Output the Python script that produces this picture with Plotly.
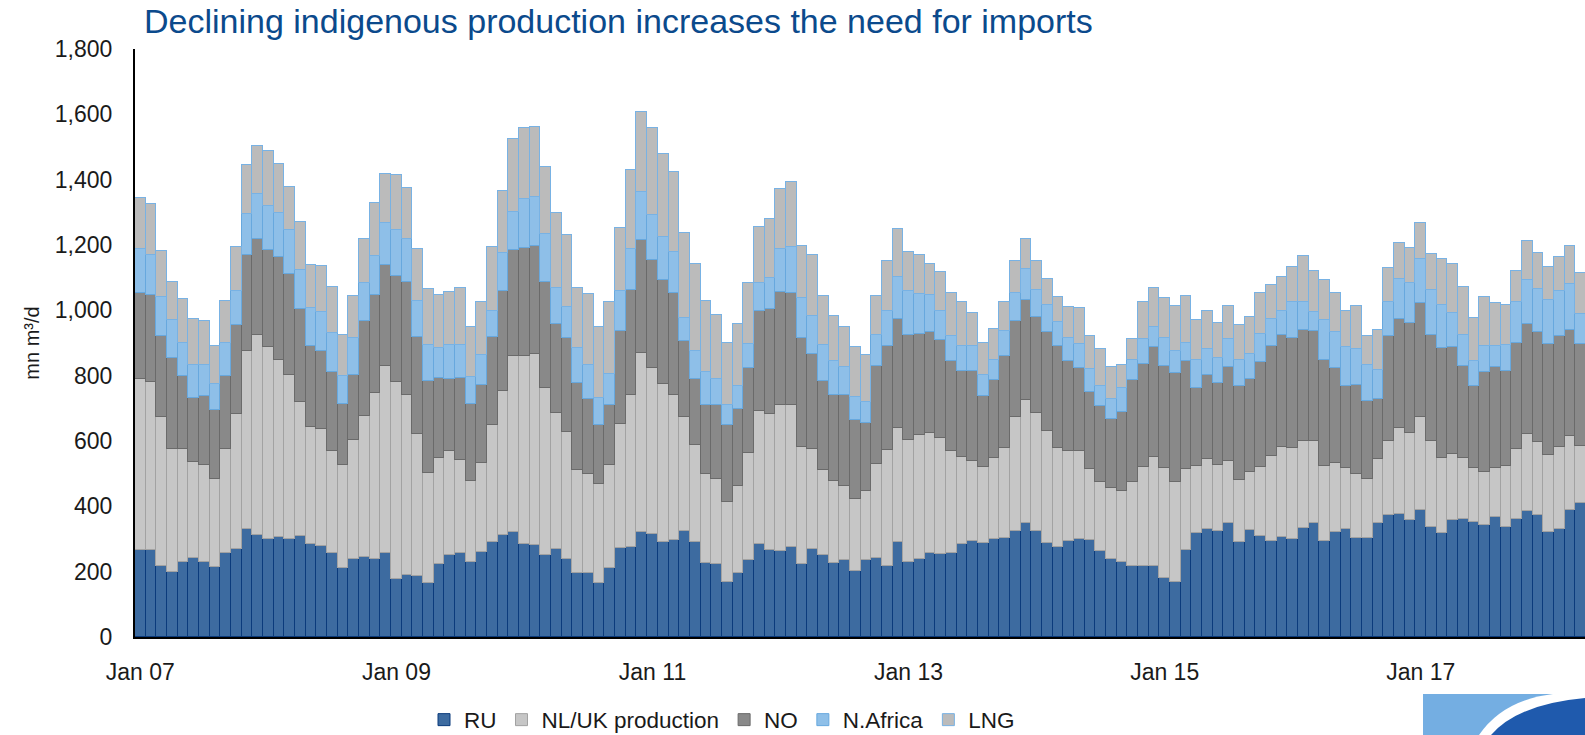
import numpy as np
import pandas as pd
import plotly.graph_objects as go

# ---------------- data (mn m3/d, monthly from Jan 2007) ----------------
RU = [267,267,218,200,231,242,229,215,257,269,331,313,
      299,307,301,308,286,278,258,212,238,244,240,258,
      179,190,188,165,224,251,258,231,260,292,311,320,
      286,283,252,268,238,195,195,166,212,271,276,320,
      316,290,297,325,292,228,224,169,197,235,286,265,
      262,276,222,270,250,226,236,202,236,241,217,291,
      229,239,258,255,258,285,293,289,299,304,323,348,
      326,288,276,294,301,297,263,240,231,217,216,217,
      181,168,266,318,331,326,348,292,327,308,294,305,
      301,333,348,293,321,332,304,304,348,375,377,358,
      388,338,317,357,360,351,342,367,336,362,386,375,
      320,332,388,410]

NL_UK = [523,514,457,375,346,295,299,268,320,415,546,611,
         588,542,502,411,356,360,312,314,365,434,506,571,
         601,552,432,337,323,318,285,247,272,358,443,540,
         575,582,510,417,390,316,304,301,314,382,464,548,
         508,483,445,350,295,270,259,245,266,329,405,419,
         447,434,360,306,261,251,226,221,211,289,356,348,
         373,379,367,354,312,266,245,232,249,274,352,379,
         360,344,304,276,268,217,211,215,217,257,304,335,
         337,306,249,207,215,200,192,188,179,211,261,278,
         278,268,253,232,213,186,196,181,196,226,264,268,
         285,261,232,204,188,167,162,150,186,215,234,221,
         236,251,226,175]

NO = [264,266,247,280,223,196,211,213,221,270,293,295,
      297,314,308,285,249,236,240,186,200,289,301,310,
      325,344,299,282,245,221,249,234,240,268,306,325,
      329,333,325,272,287,266,230,183,183,285,323,348,
      329,320,312,230,204,211,226,236,234,259,306,320,
      348,344,333,291,272,264,280,240,209,299,318,335,
      323,310,308,299,274,264,276,217,240,282,291,306,
      295,301,312,274,255,236,232,213,242,312,316,335,
      312,335,329,238,257,253,287,287,285,323,337,341,
      337,339,335,323,289,249,270,236,186,320,331,335,
      350,327,335,327,282,251,306,310,291,323,339,337,
      341,337,327,312]

N_AFRICA = [133,122,120,114,101,101,95,80,101,105,126,137,
            135,135,135,120,116,122,120,86,112,118,118,129,
            141,131,110,110,93,105,101,84,91,80,116,116,
            150,148,148,112,95,108,105,82,95,120,124,145,
            139,133,126,72,84,103,82,61,72,74,86,95,
            131,141,122,116,112,103,86,72,63,97,108,129,
            133,122,114,89,78,76,78,63,61,78,86,93,
            80,82,72,72,74,70,63,61,72,61,76,63,
            84,67,57,86,78,76,84,80,76,86,82,74,
            108,86,59,122,112,120,112,112,86,103,124,124,
            135,137,133,103,93,76,82,63,82,126,133,131,
            135,139,139,93]

LNG = [156,156,139,118,133,139,132,114,129,135,148,148,
       169,150,133,145,133,139,141,126,129,133,164,150,
       169,156,160,171,162,160,175,154,162,196,190,223,
       219,215,204,230,221,183,215,217,221,194,242,245,
       266,253,242,259,268,217,196,190,190,188,173,181,
       183,198,160,186,148,139,120,152,143,118,152,145,
       122,118,95,120,131,133,101,99,93,89,99,91,
       91,80,76,95,110,101,112,97,72,65,114,118,
       124,137,143,122,116,105,101,108,112,126,103,105,
       110,139,124,124,118,112,131,89,124,105,110,105,
       110,108,141,150,148,131,150,133,122,95,120,110,
       101,103,116,124]

months = pd.date_range("2007-01-01", periods=len(RU), freq="MS").strftime("%Y-%m").tolist()
tick_months = ["2007-01", "2009-01", "2011-01", "2013-01", "2015-01", "2017-01"]
tick_labels = ["Jan 07", "Jan 09", "Jan 11", "Jan 13", "Jan 15", "Jan 17"]
y_ticks = [0, 200, 400, 600, 800, 1000, 1200, 1400, 1600, 1800]

x = np.arange(len(months))
tickvals = [months.index(m) for m in tick_months]

series = [
    ("RU", RU, "#3D6BA0", "#0B3B7C"),
    ("NL/UK production", NL_UK, "#C6C6C6", "#A2A2A2"),
    ("NO", NO, "#898989", "#6A6A6A"),
    ("N.Africa", N_AFRICA, "#8EBFE8", "#67A8DE"),
    ("LNG", LNG, "#BBBBBB", "#78B2E4"),
]

fig = go.Figure()
for name, vals, fill, edge in series:
    fig.add_trace(go.Bar(
        x=x, y=vals, name=name, customdata=months,
        marker=dict(color=fill, line=dict(color=edge, width=1)),
        hovertemplate="%{customdata}: %{y}<extra>" + name + "</extra>",
    ))

W, H = 1585, 735
L, R, T, B = 135, 0, 49, 98
pw, ph = W - L - R, H - T - B


def px(xp):
    return (xp - L) / pw


def py(yp):
    return (H - B - yp) / ph


font_family = "Liberation Sans, Arial, sans-serif"

fig.update_layout(
    width=W, height=H,
    margin=dict(l=L, r=R, t=T, b=B, autoexpand=False),
    paper_bgcolor="white", plot_bgcolor="white",
    barmode="stack", bargap=0,
    font=dict(family=font_family, color="#1a1a1a", size=22),
    title=dict(
        text="Declining indigenous production increases the need for imports",
        x=144 / W, xref="container", xanchor="left",
        y=1 - 21 / H, yref="container", yanchor="middle",
        font=dict(family=font_family, size=34, color="#0B4A8C"),
    ),
    xaxis=dict(
        range=[-0.5, -0.5 + pw / 10.67],
        tickmode="array", tickvals=tickvals, ticktext=tick_labels,
        showline=True, linecolor="black", linewidth=2,
        showgrid=False, zeroline=False, ticks="",
        ticklabelstandoff=13,
        tickfont=dict(size=23),
        fixedrange=True,
    ),
    yaxis=dict(
        range=[0, 1800],
        tickmode="array", tickvals=y_ticks,
        tickformat=",",
        showline=True, linecolor="black", linewidth=2,
        showgrid=False, zeroline=False, ticks="",
        ticklabelstandoff=16,
        tickfont=dict(size=23),
        title=dict(text="mn m³/d", font=dict(size=20), standoff=10),
        fixedrange=True,
    ),
    legend=dict(
        orientation="h", x=px(722), xanchor="center",
        y=py(720), yanchor="middle",
        font=dict(size=22.5), traceorder="normal",
        itemwidth=30, tracegroupgap=0,
    ),
    showlegend=True,
)

# corner logo
fig.add_shape(type="rect", xref="paper", yref="paper",
              x0=px(1423), x1=px(1585), y0=py(735), y1=py(694),
              fillcolor="#74AEE2", line=dict(width=0), layer="above")
white_path = (f"M {px(1479)} {py(735)} Q {px(1503)} {py(700)} {px(1553)} {py(694)} "
              f"L {px(1585)} {py(694)} L {px(1585)} {py(735)} Z")
fig.add_shape(type="path", xref="paper", yref="paper", path=white_path,
              fillcolor="white", line=dict(width=0), layer="above")
blue_path = (f"M {px(1491)} {py(735)} Q {px(1518)} {py(704)} {px(1585)} {py(698)} "
             f"L {px(1585)} {py(735)} Z")
fig.add_shape(type="path", xref="paper", yref="paper", path=blue_path,
              fillcolor="#1F5AAD", line=dict(width=0), layer="above")

fig.write_html("out.html", config={"displayModeBar": False},
               post_script="document.body.style.margin='0';document.body.style.overflow='hidden';")
